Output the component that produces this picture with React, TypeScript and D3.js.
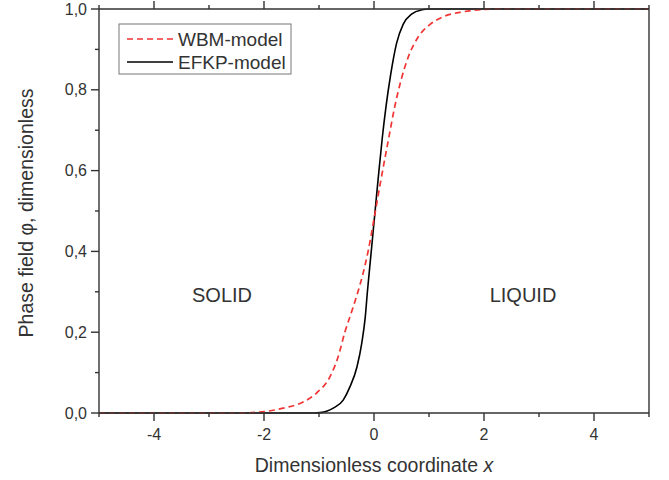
import React from "react";
import * as d3 from "d3";

const wbmX = [-5, -2.5, -2.1, -1.65, -1.29, -1.04, -0.8, -0.65, -0.53, -0.44, -0.31, -0.2, -0.1, 0, 0.11, 0.26, 0.38, 0.5, 0.62, 0.8, 1.02, 1.26, 1.62, 2.0, 2.5, 5];
const wbmPhi = [0, 0, 0.002, 0.012, 0.027, 0.05, 0.09, 0.14, 0.2, 0.237, 0.292, 0.345, 0.405, 0.48, 0.565, 0.675, 0.76, 0.828, 0.88, 0.93, 0.962, 0.981, 0.993, 0.999, 1, 1];

const efkpX = [-5, -1.1, -0.98, -0.85, -0.74, -0.56, -0.44, -0.31, -0.22, -0.16, -0.12, -0.05, 0.02, 0.09, 0.15, 0.22, 0.3, 0.41, 0.53, 0.69, 0.87, 1.0, 5];
const efkpPhi = [0, 0, 0.001, 0.005, 0.012, 0.032, 0.064, 0.114, 0.175, 0.236, 0.3, 0.4, 0.5, 0.6, 0.68, 0.76, 0.835, 0.915, 0.962, 0.988, 0.998, 1, 1];

const xMajor = [-4, -2, 0, 2, 4];
const xMinor = [-5, -3, -1, 1, 3, 5];
const yMajor = [0, 0.2, 0.4, 0.6, 0.8, 1.0];
const yMinor = [0.1, 0.3, 0.5, 0.7, 0.9];
const seriesNames = ["WBM-model", "EFKP-model"];

const W = 669, H = 480;
const L = 99, R = 649, T = 9, B = 413;
const FONT = "'Liberation Sans', Arial, sans-serif";
const TXT = "#333";

export default function App() {
  const x = d3.scaleLinear().domain([-5, 5]).range([L, R]);
  const y = d3.scaleLinear().domain([0, 1]).range([B, T]);
  const line = d3.line<[number, number]>().x(d => x(d[0])).y(d => y(d[1])).curve(d3.curveMonotoneX);
  const wbm = line(wbmX.map((v, i) => [v, wbmPhi[i]] as [number, number])) || "";
  const efkp = line(efkpX.map((v, i) => [v, efkpPhi[i]] as [number, number])) || "";
  const fmt = (v: number) => v.toFixed(1).replace(".", ",");
  const fmtX = (v: number) => String(v);

  return (
    <svg width={W} height={H} style={{ position: "absolute", left: 0, top: 0, background: "#fff" }} fontFamily={FONT}>
      <defs>
        <clipPath id="plot"><rect x={L} y={T - 1} width={R - L} height={B - T + 2} /></clipPath>
      </defs>
      <g clipPath="url(#plot)">
        <path d={efkp} fill="none" stroke="#000" strokeWidth={1.6} />
        <path d={wbm} fill="none" stroke="#f03535" strokeWidth={1.7} strokeDasharray="6,4" />
      </g>
      <g stroke="#333" strokeWidth={1.4} fill="none">
        <line x1={L} y1={B} x2={R} y2={B} />
        <line x1={L} y1={T} x2={R} y2={T} />
        <line x1={L} y1={T} x2={L} y2={B} />
        <line x1={R} y1={T} x2={R} y2={B} />
        {xMajor.map(v => <line key={"bx" + v} x1={x(v)} x2={x(v)} y1={B} y2={B + 8} />)}
        {xMinor.map(v => <line key={"bm" + v} x1={x(v)} x2={x(v)} y1={B} y2={B + 4} />)}
        {xMajor.map(v => <line key={"tx" + v} x1={x(v)} x2={x(v)} y1={T} y2={T - 8} />)}
        {xMinor.map(v => <line key={"tm" + v} x1={x(v)} x2={x(v)} y1={T} y2={T - 4} />)}
        {yMajor.map(v => <line key={"ly" + v} x1={L} x2={L - 8} y1={y(v)} y2={y(v)} />)}
        {yMinor.map(v => <line key={"lm" + v} x1={L} x2={L - 4} y1={y(v)} y2={y(v)} />)}
      </g>
      <g fill={TXT} fontSize={16}>
        {xMajor.map(v => (
          <text key={"xl" + v} x={x(v)} y={440} textAnchor="middle">{fmtX(v)}</text>
        ))}
        {yMajor.map(v => (
          <text key={"yl" + v} x={87} y={y(v)} textAnchor="end" dominantBaseline="central">{fmt(v)}</text>
        ))}
      </g>
      <text x={374} y={472} textAnchor="middle" fontSize={19.5} fill={TXT}>
        Dimensionless coordinate <tspan fontStyle="italic">x</tspan>
      </text>
      <text transform={`translate(33,${(T + B) / 2 + 2}) rotate(-90)`} textAnchor="middle" fontSize={19.5} fill={TXT}>
        Phase field φ, dimensionless
      </text>
      <text x={222} y={302} textAnchor="middle" fontSize={20} fill={TXT}>SOLID</text>
      <text x={523} y={302} textAnchor="middle" fontSize={20} fill={TXT}>LIQUID</text>
      <rect x={119} y={24} width={172} height={50} fill="#fff" stroke="#777" strokeWidth={1} />
      <line x1={127} x2={173} y1={39} y2={39} stroke="#f03535" strokeWidth={1.7} strokeDasharray="6,4" />
      <line x1={127} x2={173} y1={62} y2={62} stroke="#000" strokeWidth={1.6} />
      <text x={178} y={39} dominantBaseline="central" fontSize={19} fill={TXT}>{seriesNames[0]}</text>
      <text x={178} y={62} dominantBaseline="central" fontSize={19} fill={TXT}>{seriesNames[1]}</text>
    </svg>
  );
}
